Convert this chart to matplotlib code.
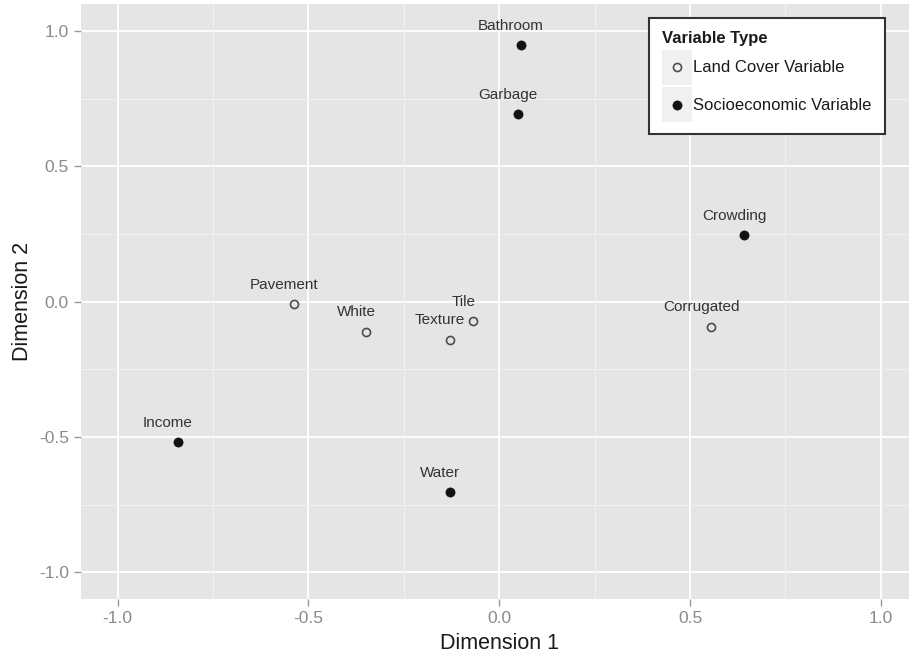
import matplotlib
matplotlib.use('Agg')
import matplotlib.pyplot as plt
from matplotlib.legend_handler import HandlerBase
from matplotlib.patches import Rectangle
from matplotlib.lines import Line2D

plt.rcParams['font.family'] = ['Liberation Sans', 'DejaVu Sans']

# data
names = ['Bathroom', 'Garbage', 'Crowding', 'Corrugated', 'Tile', 'Texture',
         'White', 'Pavement', 'Income', 'Water']
dim1 = [0.056, 0.048, 0.642, 0.556, -0.068, -0.130, -0.349, -0.538, -0.843, -0.130]
dim2 = [0.947, 0.692, 0.245, -0.092, -0.072, -0.141, -0.111, -0.009, -0.520, -0.705]
vtype = ['Socioeconomic Variable', 'Socioeconomic Variable', 'Socioeconomic Variable',
         'Land Cover Variable', 'Land Cover Variable', 'Land Cover Variable',
         'Land Cover Variable', 'Land Cover Variable', 'Socioeconomic Variable',
         'Socioeconomic Variable']
ticks = [-1.0, -0.5, 0.0, 0.5, 1.0]
minor = [-0.75, -0.25, 0.25, 0.75]

styles = {
    'Land Cover Variable': dict(marker='o', markersize=5.8, markerfacecolor='none',
                                markeredgecolor='#4d4d4d', markeredgewidth=1.2),
    'Socioeconomic Variable': dict(marker='o', markersize=6.6, markerfacecolor='#111111',
                                   markeredgecolor='#111111', markeredgewidth=0.5),
}


class KeyHandler(HandlerBase):
    # grey key background like ggplot, then the point
    def create_artists(self, legend, orig_handle, xdescent, ydescent,
                       width, height, fontsize, trans):
        bg = Rectangle((-xdescent, -ydescent - 1), width, height + 2,
                       facecolor='#f0f0f0', edgecolor='none', transform=trans)
        pt = Line2D([width / 2 - xdescent], [height / 2 - ydescent], linestyle='none',
                    transform=trans, **orig_handle.style)
        return [bg, pt]


class Key:
    def __init__(self, style):
        self.style = style


fig = plt.figure(figsize=(9.09, 6.6), dpi=100)
ax = fig.add_axes([0.0888, 0.092, 0.9112, 0.902])
ax.set_facecolor('#e5e5e5')

for v in ticks:
    ax.axvline(v, color='white', lw=1.3, zorder=1)
    ax.axhline(v, color='white', lw=1.3, zorder=1)
for v in minor:
    ax.axvline(v, color='#f2f2f2', lw=0.7, zorder=1)
    ax.axhline(v, color='#f2f2f2', lw=0.7, zorder=1)

for n, x, y, t in zip(names, dim1, dim2, vtype):
    ax.plot([x], [y], linestyle='none', zorder=3, **styles[t])
    ax.annotate(n, (x, y), xytext=(-7, 14), textcoords='offset points',
                ha='center', va='center', fontsize=11, color='#333333', zorder=4)

ax.set_xlim(-1.097, 1.074)
ax.set_ylim(-1.1, 1.1)
ax.set_xticks(ticks)
ax.set_yticks(ticks)
ax.set_xticklabels(['%.1f' % t for t in ticks])
ax.set_yticklabels(['%.1f' % t for t in ticks])
ax.tick_params(colors='#999999', labelcolor='#8a8a8a', labelsize=12.5, length=5, width=1)
for s in ax.spines.values():
    s.set_visible(False)

ax.set_xlabel('Dimension 1', fontsize=15.5, color='#1a1a1a')
ax.set_ylabel('Dimension 2', fontsize=15.5, color='#1a1a1a')
ax.xaxis.set_label_coords(0.505, -0.056)
ax.yaxis.set_label_coords(-0.058, 0.5)

keys = [Key(styles['Land Cover Variable']), Key(styles['Socioeconomic Variable'])]
leg = ax.legend(keys, ['Land Cover Variable', 'Socioeconomic Variable'],
                handler_map={Key: KeyHandler()}, title='Variable Type',
                loc='upper right', bbox_to_anchor=(0.971, 0.9765), borderaxespad=0,
                fontsize=12, title_fontproperties={'weight': 'bold', 'size': 12},
                alignment='left', handlelength=1.8, handleheight=2.6,
                labelspacing=0.3, handletextpad=0.05, borderpad=0.8,
                fancybox=False, framealpha=1)
leg.get_frame().set_edgecolor('#333333')
leg.get_frame().set_linewidth(1.5)
for t in leg.get_texts():
    t.set_color('#1a1a1a')
leg.get_title().set_color('#1a1a1a')

fig.savefig('out.png', dpi=100)
